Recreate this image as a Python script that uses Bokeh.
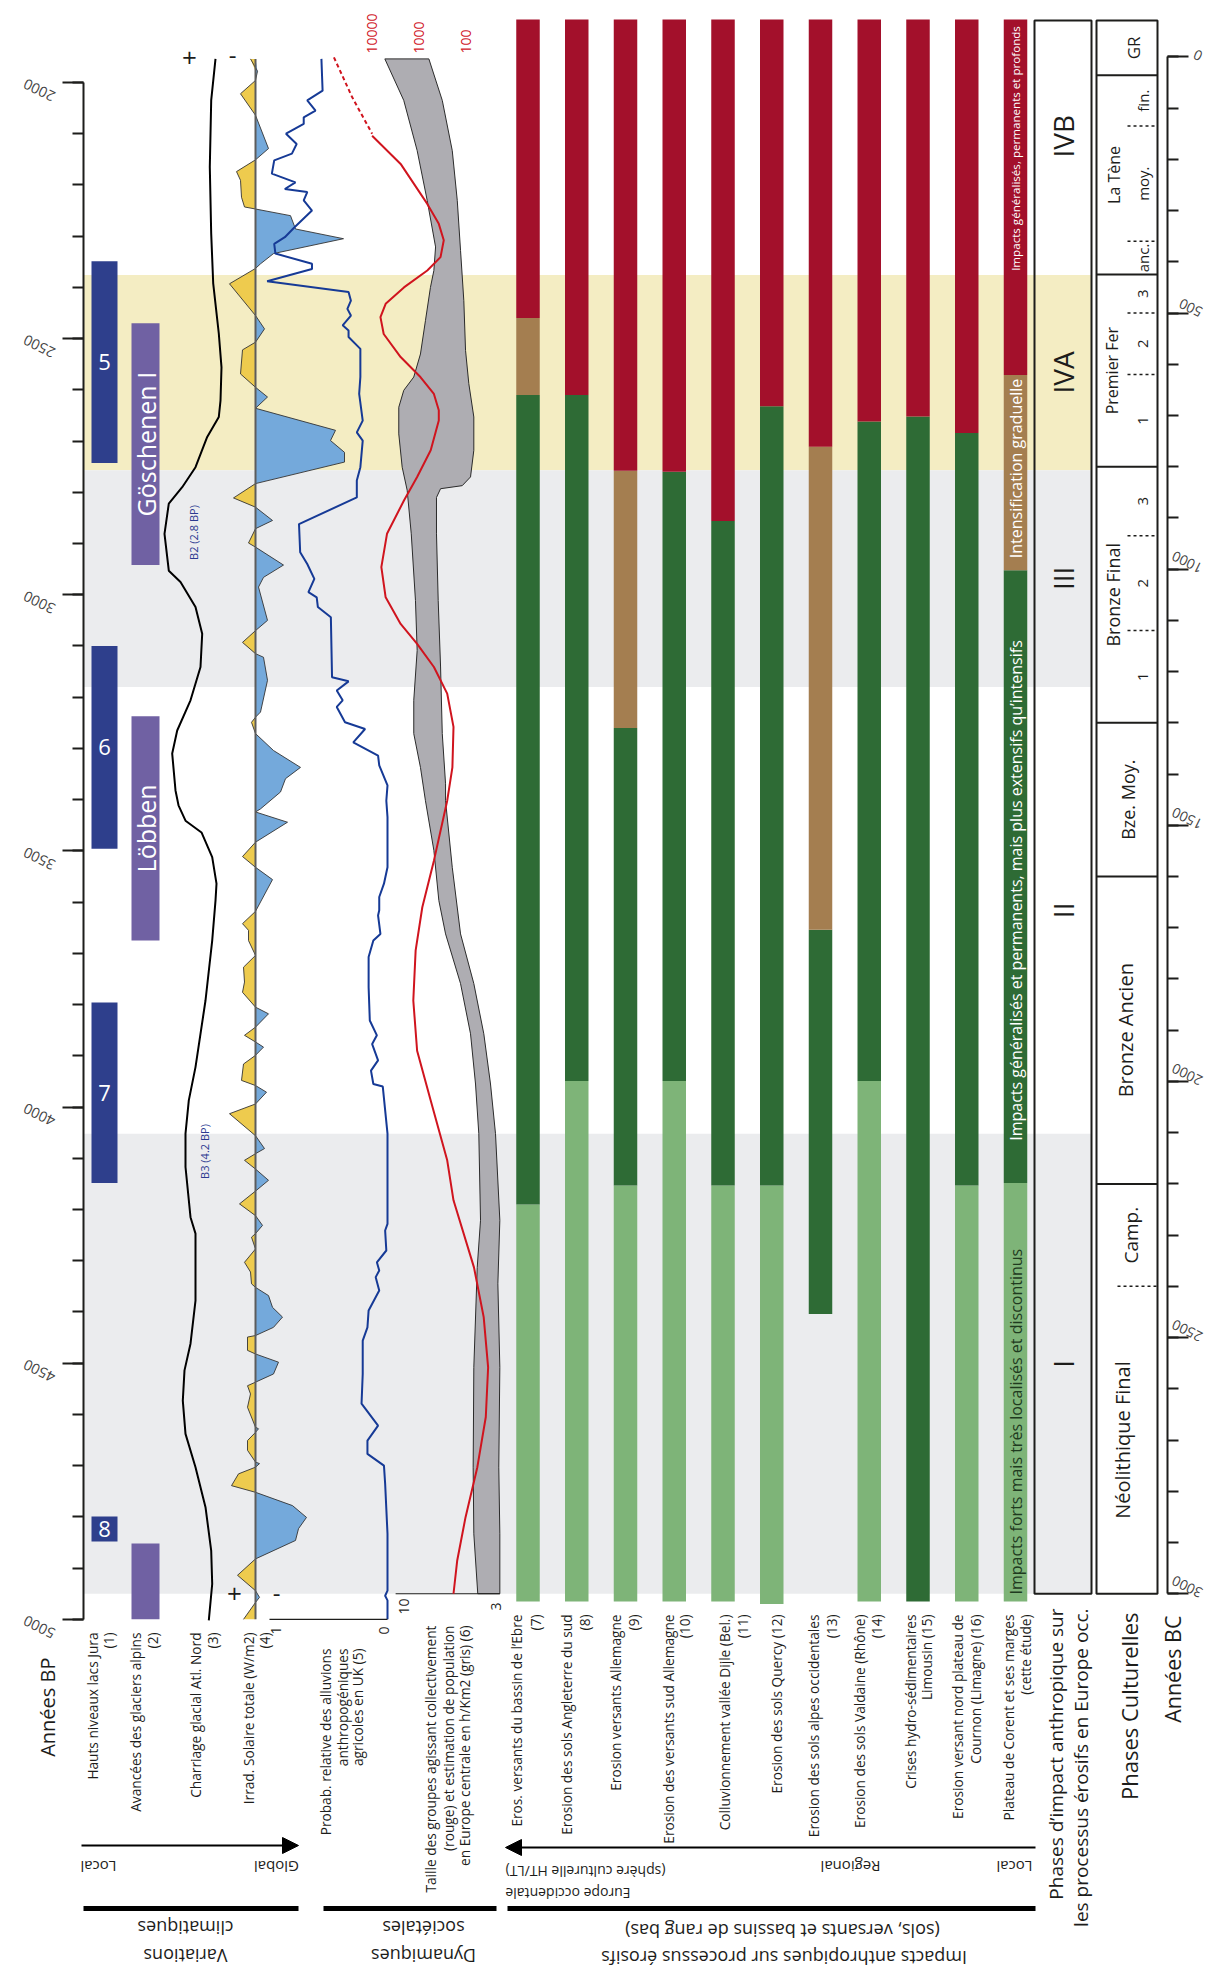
import numpy as np
from bokeh.plotting import figure
from bokeh.models import Range1d, LinearAxis, SingleIntervalTicker, Arrow, NormalHead
from bokeh.core.properties import value
from bokeh.embed import file_html
from bokeh.resources import INLINE

FONT = "Open Sans"

# ======================= DATA (years cal. BP unless noted) =======================
# (1) high lake levels, Jura
lake_start = [2349, 3100, 3796, 4799]
lake_end = [2743, 3496, 4148, 4848]
lake_labels = ["5", "6", "7", "8"]
# (2) alpine glacier advances
glacier_start = [2470, 3237, 4852]
glacier_end = [2942, 3675, 5000]
glacier_labels = ["Göschenen I", "Löbben", ""]

# (3) North Atlantic ice-rafted debris (relative index, + to the left)
ird_bp = [1954, 2035, 2165, 2295, 2392, 2490, 2556, 2621, 2653, 2692, 2751, 2790, 2822, 2881,
          2953, 2975, 3024, 3076, 3141, 3206, 3265, 3310, 3382, 3411, 3441, 3464, 3512, 3564,
          3597, 3675, 3792, 3922, 3987, 4052, 4117, 4215, 4247, 4378, 4462, 4514, 4573, 4638,
          4703, 4781, 4866, 4931, 5002]
ird_val = [15, 19.3, 20.7, 19.3, 17.3, 11.7, 9, 10, 11.7, 23.3, 35, 48.3, 61.7, 66,
           61.7, 50, 35, 28.3, 30, 40, 53.3, 58.3, 55, 52, 45, 29, 18.3, 14,
           15, 18.3, 25, 35, 41.7, 45, 45, 40, 35, 35, 40, 46, 47.7, 45,
           35, 25, 19.3, 18.3, 21.7]

# (4) total solar irradiance anomaly (W/m2)
solar_bp = [1954, 1978, 1996, 2022, 2064, 2129, 2151, 2174, 2191, 2224, 2243, 2247, 2260, 2286,
            2305, 2334, 2354, 2363, 2393, 2455, 2481, 2507, 2522, 2569, 2595, 2614, 2636, 2679,
            2699, 2722, 2741, 2783, 2811, 2829, 2855, 2871, 2899, 2907, 2942, 2966, 2985, 3050,
            3070, 3093, 3115, 3122, 3167, 3229, 3239, 3249, 3271, 3304, 3337, 3359, 3385, 3418,
            3424, 3444, 3483, 3511, 3532, 3556, 3618, 3642, 3655, 3675, 3704, 3727, 3756, 3776,
            3805, 3818, 3844, 3860, 3873, 3883, 3899, 3916, 3948, 3958, 3971, 3994, 4013, 4056,
            4081, 4091, 4104, 4121, 4143, 4164, 4189, 4212, 4231, 4247, 4254, 4277, 4303, 4322,
            4345, 4352, 4368, 4391, 4410, 4430, 4446, 4449, 4475, 4482, 4498, 4521, 4537, 4544,
            4560, 4586, 4625, 4628, 4635, 4651, 4670, 4693, 4696, 4703, 4716, 4739, 4752, 4778,
            4801, 4823, 4846, 4882, 4914, 4944, 4957, 4967, 5000]
solar_val = [-0.05, 0.02, 0, -0.15, 0, 0.13, 0, -0.19, -0.15, -0.14, -0.11, 0, 0.35, 0.40,
             0.88, 0.18, 0.05, 0, -0.26, 0, 0.09, 0, -0.13, -0.15, 0, 0.12, 0, 0.80,
             0.75, 0.89, 0.89, 0, -0.22, 0, 0.17, 0, -0.07, 0, 0.28, 0.08, 0.03, 0.12,
             0, -0.13, 0, 0.08, 0.12, 0.05, 0, -0.04, 0, 0.18, 0.45, 0.30, 0.25, 0.05,
             0, 0.32, 0, -0.13, 0, 0.17, 0, -0.13, -0.07, -0.07, 0, -0.12, -0.11, -0.13,
             0, 0.13, 0, -0.11, 0, 0.08, 0, -0.12, -0.14, 0, 0.11, 0, -0.26, 0,
             0.09, 0, -0.11, 0, 0.13, 0, -0.16, 0, 0.07, 0, -0.04, 0, -0.11, -0.05,
             -0.04, 0, 0.13, 0.17, 0.27, 0.18, 0, -0.08, -0.08, 0, 0.23, 0.18, 0, -0.08,
             -0.05, -0.08, 0, 0.03, 0, -0.08, -0.08, 0, 0.04, 0, -0.17, -0.24, 0, 0.37,
             0.51, 0.43, 0.40, 0, -0.18, 0, 0.04, 0, -0.12]

# (5) relative probability of agricultural anthropogenic alluvium, UK
prob_bp = [1954, 2016, 2035, 2055, 2068, 2081, 2100, 2120, 2139, 2152, 2178, 2195, 2208, 2214,
           2230, 2250, 2283, 2302, 2315, 2334, 2354, 2364, 2388, 2409, 2426, 2442, 2455, 2474,
           2484, 2497, 2520, 2575, 2608, 2660, 2683, 2699, 2751, 2777, 2810, 2862, 2917, 2940,
           2969, 2995, 3005, 3024, 3044, 3161, 3169, 3187, 3206, 3219, 3249, 3262, 3288, 3314,
           3333, 3372, 3402, 3434, 3532, 3564, 3590, 3616, 3626, 3662, 3675, 3707, 3766, 3831,
           3860, 3877, 3909, 3929, 3955, 3960, 4052, 4182, 4228, 4241, 4280, 4303, 4319, 4332,
           4358, 4397, 4430, 4456, 4521, 4579, 4622, 4651, 4677, 4700, 4735, 4833, 4944, 4954,
           4963, 5000]
prob_val = [0.56, 0.55, 0.68, 0.61, 0.71, 0.71, 0.86, 0.77, 0.81, 0.96, 0.98, 0.78, 0.87, 0.68,
            0.71, 0.64, 0.79, 0.87, 0.96, 0.95, 0.64, 0.64, 1.02, 0.33, 0.31, 0.34, 0.31, 0.38,
            0.33, 0.33, 0.23, 0.23, 0.24, 0.21, 0.26, 0.21, 0.23, 0.26, 0.26, 0.75, 0.74, 0.68,
            0.62, 0.67, 0.60, 0.59, 0.48, 0.47, 0.33, 0.43, 0.38, 0.43, 0.36, 0.19, 0.29, 0.08,
            0.07, 0.0, 0.01, 0.0, 0.0, 0.03, 0.07, 0.07, 0.08, 0.06, 0.12, 0.16, 0.16, 0.15,
            0.09, 0.13, 0.08, 0.14, 0.12, 0.04, 0.0, 0.0, 0.0, 0.02, 0.01, 0.09, 0.07, 0.10,
            0.07, 0.16, 0.17, 0.21, 0.21, 0.22, 0.08, 0.17, 0.17, 0.03, 0.02, 0.0, 0.0, 0.02,
            0.0, 0.0]

# (6a) size of groups acting collectively (red, log scale)
group_dash_bp = [1951, 2029, 2100]
group_dash_size = [63000, 25700, 9700]
group_bp = [2104, 2159, 2237, 2276, 2308, 2341, 2367, 2400, 2432, 2458, 2491, 2536, 2575, 2608,
            2640, 2660, 2718, 2770, 2816, 2881, 2946, 3005, 3057, 3096, 3141, 3193, 3258, 3337,
            3402, 3519, 3610, 3694, 3792, 3890, 3987, 4104, 4182, 4313, 4410, 4508, 4605, 4703,
            4801, 4885, 4950]
group_size = [9700, 2400, 650, 370, 290, 340, 650, 2040, 5000, 6450, 5500, 2400, 910, 470,
              370, 370, 550, 1070, 2040, 4680, 6170, 5000, 2400, 1070, 470, 245, 180, 190,
              245, 470, 830, 1150, 1290, 1070, 550, 245, 180, 66, 41, 33, 37, 56,
              100, 150, 180]

# (6b) population density estimate, central Europe (grey band, h/km2)
dens_hi_bp = [1954, 2035, 2133, 2230, 2321, 2367, 2400, 2465, 2530, 2575, 2601, 2634, 2686, 2751,
              2796, 2881, 3011, 3109, 3206, 3271, 3337, 3402, 3499, 3597, 3662, 3759, 3857, 3955,
              4052, 4221, 4313, 4508, 4703, 4833, 4950]
dens_hi = [11.42, 9.98, 8.96, 8.20, 7.56, 7.69, 7.95, 8.33, 8.71, 9.22, 9.98, 10.36, 10.36, 10.10,
           9.72, 9.41, 9.09, 8.96, 9.22, 9.22, 8.71, 8.33, 7.69, 7.31, 6.80, 5.66, 4.90, 4.52,
           4.27, 4.14, 4.39, 4.65, 4.70, 4.65, 4.35]
dens_lo_bp = [1954, 2035, 2133, 2230, 2328, 2426, 2523, 2588, 2653, 2718, 2770, 2787, 2793, 2810,
              2881, 3011, 3141, 3271, 3369, 3402, 3532, 3662, 3759, 3857, 3955, 4052, 4221, 4345,
              4508, 4703, 4833, 4950]
dens_lo = [8.07, 7.05, 6.29, 5.91, 5.66, 5.41, 5.28, 5.03, 4.65, 4.65, 4.90, 5.53, 7.18, 7.49,
           7.49, 7.36, 7.18, 7.05, 6.80, 6.80, 6.29, 5.66, 4.65, 3.89, 3.38, 3.00, 2.67, 2.82,
           2.67, 2.75, 2.67, 2.67]

# Erosion records (7)-(16) and Corent: BP at which each impact phase begins
sites = ["Ebre (7)", "Angleterre du sud (8)", "Allemagne (9)", "sud Allemagne (10)",
         "Dijle (11)", "Quercy (12)", "alpes occidentales (13)", "Valdaine (14)",
         "Limousin (15)", "Cournon (16)", "Corent"]
light_from = [4965, 4965, 4965, 4965, 4965, 4970, None, 4965, None, 4965, 4965]
dark_from = [4190, 3949, 4153, 3949, 4153, 4153, 4404, 3949, 4965, 4153, 4148]
brown_from = [2610, None, 3260, None, None, None, 3654, None, None, None, 2952]
red_from = [2460, 2610, 2758, 2760, 2856, 2632, 2711, 2662, 2652, 2684, 2571]
record_top = 1877

# Impact phases (Western Europe)
phase_bounds = [1879, 2376, 2757, 3180, 4052, 4950]
phase_labels = ["IVB", "IVA", "III", "II", "I"]
phase_label_bp = [2105, 2566, 2968, 3616, 4501]
phase_fill = ["white", "#F4EDC3", "#EBECEE", "white", "#EBECEE"]

# Cultural phases (years BC)
culture_names = ["GR", "La Tène", "Premier Fer", "Bronze Final", "Bze. Moy.",
                 "Bronze Ancien", "Camp.", "Néolithique Final"]
culture_from = [-71, 36, 425, 800, 1300, 1600, 2200, 2400]
culture_to = [36, 425, 800, 1300, 1600, 2200, 2400, 3000]
sub_bounds_bc = [135, 360, 500, 620, 935, 1120]
sub_labels = ["fin.", "moy.", "anc.", "3", "2", "1", "3", "2", "1"]
sub_from = [36, 135, 360, 425, 500, 620, 800, 935, 1120]
sub_to = [135, 360, 425, 500, 620, 800, 935, 1120, 1300]

# ======================= LAYOUT / STYLE =======================
W, H = 1222, 1975
PX_YR = 1.952                      # years per pixel
BP_TOP = 1840.0                    # years BP at the top edge
BP_BOT = BP_TOP + H * PX_YR


def Y(ypx):
    """vertical page position (reference px) -> years BP"""
    return BP_TOP + ypx * PX_YR


def xr(a, b, v0, v1):
    """extra x range where value v0 sits at px a and v1 at px b"""
    k = (b - a) / (v1 - v0)
    return Range1d(start=v0 + (0 - a) / k, end=v0 + (W - a) / k)


p = figure(width=W, height=H, x_range=Range1d(0, W), y_range=Range1d(BP_BOT, BP_TOP),
           output_backend="svg", toolbar_location=None, min_border=0,
           x_axis_location=None, y_axis_location=None, outline_line_color=None)
p.grid.visible = False
p.extra_y_ranges = {"bc": Range1d(BP_BOT - 1950, BP_TOP - 1950)}
p.extra_x_ranges = {
    "ird": xr(230, 130, 0, 100),
    "solar": xr(255, 355, 0, 1),
    "prob": xr(387, 269, 0, 1),
    "grp": xr(371, 465, 4, 2),
    "dens": xr(403, 495, 10, 3),
}

BLACK = "#1d1d1b"


def txt(x, y, s, size, angle=0, align="center", baseline="middle", color=BLACK, y_range_name="default"):
    p.text(x=[x], y=[y], text=[s], angle=angle, angle_units="deg", text_font=value(FONT),
           text_font_size=f"{size}px", text_align=align, text_baseline=baseline,
           text_color=color, y_range_name=y_range_name)


# ---- background bands ----
BAND_L, BAND_R = 83, 1091
for i, c in enumerate(phase_fill):
    if c != "white":
        p.quad(left=BAND_L, right=BAND_R, top=phase_bounds[i], bottom=phase_bounds[i + 1],
               fill_color=c, line_color=None)

# ---- BP / BC axes ----
common = dict(axis_line_width=2, major_tick_line_width=2, minor_tick_line_width=2,
              major_tick_in=0, major_tick_out=21, minor_tick_in=0, minor_tick_out=11,
              major_label_orientation=2.68, major_label_text_font=FONT,
              axis_line_color=BLACK, major_tick_line_color=BLACK, minor_tick_line_color=BLACK)
ax = LinearAxis(fixed_location=83, bounds=(2000, 5000),
                ticker=SingleIntervalTicker(interval=500, num_minor_ticks=5),
                major_label_text_font_size="14.5px", major_label_standoff=38, **common)
p.add_layout(ax, "left")
bc_ax = LinearAxis(y_range_name="bc", fixed_location=1167, bounds=(0, 3000),
                   ticker=SingleIntervalTicker(interval=500, num_minor_ticks=5),
                   major_label_text_font_size="14px", major_label_standoff=13, **common)
p.add_layout(bc_ax, "right")

# ---- (1) lake levels ----
p.quad(left=91, right=117, top=lake_start, bottom=lake_end, fill_color="#2E3F8C", line_color=None)
for a, b, s in zip(lake_start, lake_end, lake_labels):
    txt(104, (a + b) / 2, s, 22, color="white")
# ---- (2) glaciers ----
p.quad(left=131, right=159, top=glacier_start, bottom=glacier_end, fill_color="#7061A3", line_color=None)
for a, b, s in zip(glacier_start, glacier_end, glacier_labels):
    if s:
        txt(145, (a + b) / 2, s, 25, angle=90, color="white")

# ---- (3) IRD ----
p.line(ird_val, ird_bp, x_range_name="ird", line_color="black", line_width=2)
txt(193, Y(532), "B2 (2.8 BP)", 11, angle=90, color="#2B3990")
txt(204, Y(1151), "B3 (4.2 BP)", 11, angle=90, color="#2B3990")

# ---- (4) solar ----
sv = np.array(solar_val)
p.harea(x1=np.zeros(len(sv)), x2=np.maximum(sv, 0), y=solar_bp, x_range_name="solar",
        fill_color="#74A9DB")
p.harea(x1=np.zeros(len(sv)), x2=np.minimum(sv, 0), y=solar_bp, x_range_name="solar",
        fill_color="#EECB4E")
p.line(solar_val, solar_bp, x_range_name="solar", line_color="#333333", line_width=0.9)
p.segment(x0=0, x1=0, y0=solar_bp[0], y1=solar_bp[-1], x_range_name="solar",
          line_color="#5c5c5c", line_width=2)

# ---- (5) UK alluvium probability ----
p.line(prob_val, prob_bp, x_range_name="prob", line_color="#163A96", line_width=2)
p.segment(x0=1, x1=0, y0=5000, y1=5000, x_range_name="prob", line_color=BLACK, line_width=1.2)

# ---- (6) group size & density ----
p.patch(np.concatenate([dens_hi, dens_lo[::-1]]), np.concatenate([dens_hi_bp, dens_lo_bp[::-1]]),
        x_range_name="dens", fill_color="#AEADB2", line_color="#2b2b2b", line_width=1)
p.segment(x0=10.6, x1=2.67, y0=4950, y1=4950, x_range_name="dens", line_color=BLACK, line_width=1.2)
p.line(np.log10(group_size), group_bp, x_range_name="grp", line_color="#D0141E", line_width=2)
p.line(np.log10(group_dash_size), group_dash_bp, x_range_name="grp", line_color="#D0141E",
       line_width=2, line_dash="4 3")
for v, s in [(4, "10000"), (3, "1000"), (2, "100")]:
    p.text(x=[v], y=[Y(53)], text=[s], angle=90, angle_units="deg", text_font=value(FONT),
           text_font_size="14px", text_align="left", text_baseline="middle",
           text_color="#D0141E", x_range_name="grp")

# ---- erosion records ----
C0, STEP, BW = 527.5, 48.75, 23.5
COL = {"light": "#7EB478", "dark": "#2E6B35", "brown": "#A47E50", "red": "#A3102B"}
for i in range(len(sites)):
    c = C0 + i * STEP
    segs = []
    nxt = brown_from[i] if brown_from[i] is not None else red_from[i]
    if light_from[i] is not None:
        segs.append(("light", light_from[i], dark_from[i]))
    segs.append(("dark", dark_from[i], nxt))
    if brown_from[i] is not None:
        segs.append(("brown", brown_from[i], red_from[i]))
    segs.append(("red", red_from[i], record_top))
    for k, b, t in segs:
        p.quad(left=c - BW / 2, right=c + BW / 2, top=t, bottom=b, fill_color=COL[k], line_color=None)

cx = C0 + 10 * STEP
txt(cx, Y(1594), "Impacts forts mais très localisés et discontinus", 16, angle=90, align="left",
    color="#1f3a1f")
txt(cx, Y(890), "Impacts généralisés et permanents, mais plus extensifs qu’intensifs", 16,
    angle=90, color="white")
txt(cx, Y(468), "Intensification graduelle", 16, angle=90, color="white")
txt(cx, Y(148), "Impacts généralisés, permanents et profonds", 11.6, angle=90, color="white")

# ---- impact phase box ----
PH_L, PH_R = 1034, 1091
p.quad(left=PH_L, right=PH_R, top=phase_bounds[0], bottom=phase_bounds[-1], fill_color=None,
       line_color=BLACK, line_width=2)
for s, yb in zip(phase_labels, phase_label_bp):
    txt((PH_L + PH_R) / 2, yb, s, 28, angle=90)

# ---- cultural phases ----
CU_L, CU_R = 1096, 1157
p.quad(left=CU_L, right=CU_R, top=culture_from[0], bottom=culture_to[-1], fill_color=None,
       line_color=BLACK, line_width=2, y_range_name="bc")
solid = culture_to[:-2]
p.segment(x0=CU_L, x1=CU_R, y0=solid, y1=solid, line_color=BLACK, line_width=2, y_range_name="bc")
p.segment(x0=1117, x1=CU_R, y0=culture_to[-2], y1=culture_to[-2], line_color=BLACK,
          line_width=1.5, line_dash="3 3", y_range_name="bc")
p.segment(x0=1127, x1=CU_R, y0=sub_bounds_bc, y1=sub_bounds_bc, line_color=BLACK,
          line_width=1.5, line_dash="3 3", y_range_name="bc")
name_x = {"GR": 1133, "La Tène": 1113, "Premier Fer": 1111, "Bronze Final": 1112,
          "Bze. Moy.": 1127, "Bronze Ancien": 1125, "Camp.": 1130, "Néolithique Final": 1122}
name_size = {"GR": 17, "La Tène": 16, "Premier Fer": 16, "Bronze Final": 18, "Bze. Moy.": 18,
             "Bronze Ancien": 20, "Camp.": 19, "Néolithique Final": 20}
for s, a, b in zip(culture_names, culture_from, culture_to):
    txt(name_x[s], (a + b) / 2, s, name_size[s], angle=90, y_range_name="bc")
for s, a, b in zip(sub_labels, sub_from, sub_to):
    txt(1142, (a + b) / 2, s, 15, angle=90, y_range_name="bc")

# ---- +/- ----
txt(189, Y(57), "+", 26)
txt(232, Y(55), "-", 24)
txt(234, Y(1593), "+", 26)
txt(276, Y(1593), "-", 24)

# ---- scale labels ----
txt(275, Y(1630), "1", 14, angle=90)
txt(383, Y(1630), "0", 14, angle=90)
txt(403, Y(1598), "10", 14, angle=90, align="right")
txt(495, Y(1602), "3", 14, angle=90, align="right")

# ---- bottom labels (rotated) ----
LS = 13.7
T1 = Y(1632)
for x, s in [(91.7, "Hauts niveaux lacs Jura"), (108, "(1)"),
             (135, "Avancées des glaciers alpins"), (151.7, "(2)"),
             (195, "Charriage glacial Atl. Nord"), (211.7, "(3)"),
             (248.3, "Irrad. Solaire totale (W/m2)"), (264.3, "(4)")]:
    txt(x, T1, s, LS, angle=90, align="right")
for x, s in [(325, "Probab. relative des alluvions"), (341.7, "anthropogéniques"),
             (356.7, "agricoles en UK (5)")]:
    txt(x, Y(1648), s, LS, angle=90, align="right")
for x, s in [(430, "Taille des groupes agissant collectivement"),
             (447.7, "(rouge) et estimation de population"),
             (464.3, "en Europe centrale en h/Km2 (gris) (6)")]:
    txt(x, Y(1625), s, LS, angle=90, align="right")
T2 = Y(1614)
for x, s in [(515.7, "Eros. versants du bassin de l’Ebre"), (535.4, "(7)"),
             (565.7, "Erosion des sols Angleterre du sud"), (583.6, "(8)"),
             (615, "Erosion versants Allemagne"), (632.9, "(9)"),
             (667.5, "Erosion des versants sud Allemagne"), (683.6, "(10)"),
             (724, "Colluvionnement vallée Dijle (Bel.)"), (741.8, "(11)"),
             (776.4, "Erosion des sols Quercy (12)"),
             (812.9, "Erosion des sols alpes occidentales"), (831, "(13)"),
             (858.6, "Erosion des sols Valdaine (Rhône)"), (875.7, "(14)"),
             (910.4, "Crises hydro-sédimentaires"), (926.4, "Limousin (15)"),
             (956.8, "Erosion versant nord plateau de"), (974.6, "Cournon (Limagne) (16)"),
             (1007.9, "Plateau de Corent et ses marges"), (1025.4, "(cette étude)")]:
    txt(x, T2, s, LS, angle=90, align="right")

txt(47, Y(1657), "Années BP", 20, angle=90, align="right")
txt(1055, Y(1608), "Phases d’impact anthropique sur", 19, angle=90, align="right")
txt(1080, Y(1608), "les processus érosifs en Europe occ.", 19, angle=90, align="right")
txt(1128, Y(1612), "Phases Culturelles", 22, angle=90, align="right")
txt(1172, Y(1615), "Années BC", 21.5, angle=90, align="right")

# ---- arrows & group bars ----
p.add_layout(Arrow(end=NormalHead(size=16, fill_color="black", line_color="black"),
                   x_start=81, y_start=Y(1845), x_end=298, y_end=Y(1845),
                   line_color="black", line_width=2))
p.add_layout(Arrow(end=NormalHead(size=16, fill_color="black", line_color="black"),
                   x_start=1035, y_start=Y(1847), x_end=505, y_end=Y(1847),
                   line_color="black", line_width=2))
txt(98, Y(1866), "Local", 15, angle=180)
txt(276, Y(1866), "Global", 15, angle=180)
txt(1014, Y(1866), "Local", 15, angle=180)
txt(850, Y(1866), "Regional", 15, angle=180)
txt(585, Y(1871), "(sphère culturelle HT/LT)", 14, angle=180)
txt(567.5, Y(1893), "Europe occidentale", 14, angle=180)

p.segment(x0=[83, 323, 507], x1=[298, 496, 1035], y0=Y(1908), y1=Y(1908),
          line_color="black", line_width=5)
txt(185, Y(1927), "climatiques", 18, angle=180)
txt(185, Y(1955), "Variations", 18, angle=180)
txt(423, Y(1927), "sociétales", 18, angle=180)
txt(423, Y(1955), "Dynamiques", 18, angle=180)
txt(782, Y(1930), "(sols, versants et bassins de rang bas)", 18, angle=180)
txt(783.6, Y(1957), "Impacts anthropiques sur processus érosifs", 18, angle=180)

open("out.html", "w").write(file_html(p, INLINE))
